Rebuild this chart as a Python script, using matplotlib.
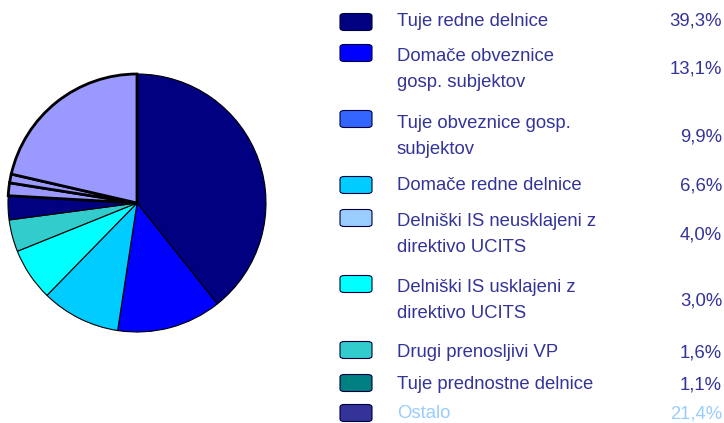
import matplotlib.pyplot as plt
from matplotlib.patches import FancyBboxPatch

# pie slices, clockwise from top
pie_values = [39.3, 13.1, 9.9, 6.6, 4.0, 3.0, 1.6, 1.1, 21.4]
pie_colors = ['#000080', '#0000FF', '#00CCFF', '#00FFFF', '#33CCCC',
              '#000080', '#9999FF', '#9999FF', '#9999FF']
pie_lw = [0.8, 0.8, 0.8, 0.8, 0.8, 0.8, 2.0, 2.0, 2.0]

# legend
labels = ['Tuje redne delnice', 'Domače obveznice\ngosp. subjektov',
          'Tuje obveznice gosp.\nsubjektov', 'Domače redne delnice',
          'Delniški IS neusklajeni z\ndirektivo UCITS',
          'Delniški IS usklajeni z\ndirektivo UCITS',
          'Drugi prenosljivi VP', 'Tuje prednostne delnice', 'Ostalo']
pcts = ['39,3%', '13,1%', '9,9%', '6,6%', '4,0%', '3,0%', '1,6%', '1,1%', '21,4%']
leg_colors = ['#000080', '#0000FF', '#3366FF', '#00CCFF', '#99CCFF',
              '#00FFFF', '#33CCCC', '#008080', '#333399']

W, H = 724, 423
fig = plt.figure(figsize=(W / 100, H / 100), dpi=100)
plt.rcParams['font.family'] = ['Liberation Sans', 'DejaVu Sans']

cx, cy, r = 137, 203, 129
ax = fig.add_axes([(cx - r) / W, (H - cy - r) / H, 2 * r / W, 2 * r / H])
wedges, _ = ax.pie(pie_values, colors=pie_colors, startangle=90,
                   counterclock=False, radius=1,
                   wedgeprops=dict(edgecolor='black', linewidth=0.8))
for w, lw in zip(wedges, pie_lw):
    w.set_linewidth(lw)
    w.set_clip_on(False)
    if lw > 1:
        w.set_zorder(3)
ax.set_xlim(-1, 1)
ax.set_ylim(-1, 1)
ax.set_aspect('equal')
ax.axis('off')

# legend rows (pixel y of box centre, text centre)
box_y = [22, 53, 119, 185, 218, 284, 350, 383, 413]
text_y = [21.5, 69.5, 136.5, 185.5, 234.5, 300.5, 352.5, 384.5, 413.5]
text_col = '#333399'
for i, lab in enumerate(labels):
    by = box_y[i]
    box = FancyBboxPatch((340 / W, (H - by - 8.5) / H), 32 / W, 17 / H,
                         boxstyle='round,pad=0,rounding_size=0.006',
                         transform=fig.transFigure, facecolor=leg_colors[i],
                         edgecolor='#000040', linewidth=0.8)
    fig.patches.append(box)
    col = '#99CCFF' if i == len(labels) - 1 else text_col
    fig.text(397 / W, 1 - text_y[i] / H, lab, ha='left', va='center',
             fontsize=13.3, color=col, linespacing=1.75)
    fig.text(722 / W, 1 - text_y[i] / H, pcts[i], ha='right', va='center',
             fontsize=13.3, color=col)

fig.savefig('out.png', dpi=100)
